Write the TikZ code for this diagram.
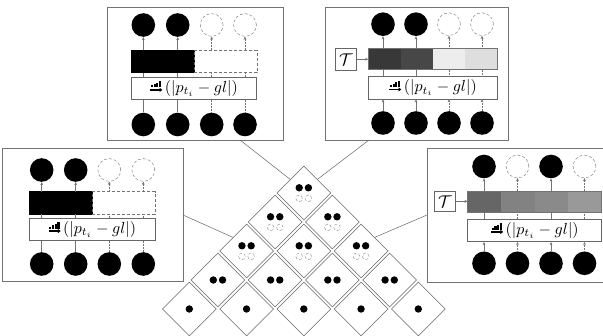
\documentclass[tikz,border=0pt]{standalone}
\usetikzlibrary{shapes.geometric,arrows.meta,calc}
\newcommand\myformula{\scalebox{1.6}{$(|p_{t_i}-gl|)$}}
\newcommand\mytau{\scalebox{1.7}{$\mathcal{T}$}}
\tikzset{
 frame/.style={draw=black!55, line width=0.6pt, rectangle, inner sep=0pt},
 area/.style={rectangle, inner sep=0pt, outer sep=0pt},
 dot/.style={circle, fill=black, inner sep=0pt, minimum size=23.6pt},
 ghost/.style={circle, draw=black!55, densely dashed, line width=0.4pt, inner sep=0pt, minimum size=22.8pt},
 fbox/.style={draw=black!60, fill=white, line width=0.6pt, inner sep=0pt, rectangle},
 keep/.style={draw=black!55, line width=0.5pt},
 drop/.style={draw=black!55, line width=0.5pt, densely dotted},
 cell/.style={rectangle, inner sep=0pt, outer sep=0pt, draw=black!55, line width=0.4pt},
 tile/.style={diamond, draw=black!60, line width=0.5pt, inner sep=0pt, minimum size=54pt, fill=white},
 sdot/.style={circle, fill=black, inner sep=0pt, minimum size=7.4pt},
 sghost/.style={circle, draw=black!55, densely dashed, line width=0.3pt, inner sep=0pt, minimum size=6.6pt},
 link/.style={draw=black!60, line width=0.5pt},
 sorticon/.pic={
   \fill (-5.6,-0.8) rectangle (-3.5,-2.8);
   \fill (-2.8,-0.8) rectangle (-0.7,-4.0);
   \fill (0.0,-0.8) rectangle (2.1,-5.4);
   \fill (2.8,-0.8) rectangle (4.9,-7.2);
   \draw[line width=1.4pt, -{Triangle[length=2.8pt,width=4pt]}] (-6,1.6) -- (6,1.6);
 }
}
\begin{document}
\begin{tikzpicture}[x=1pt,y=-1pt, >={Stealth[length=3.2pt,width=2.8pt]}]
\useasboundingbox (0,0) rectangle (603,336);

% ---------- frames ----------
\node[frame, minimum width=176pt, minimum height=133pt] (P1) at (195,73.5) {};
\node[frame, minimum width=183pt, minimum height=133pt] (P2) at (416.5,73.5) {};
\node[frame, minimum width=181pt, minimum height=133pt] (P3) at (92.5,214.5) {};
\node[frame, minimum width=183pt, minimum height=134pt] (P4) at (518.5,215) {};

% ---------- panel 1 ----------
\node[area, minimum width=125.7pt, minimum height=22.7pt] (B1) at (193.85,61.35) {};
\node[cell, fill=black, draw=black, minimum width=62.85pt, minimum height=22.7pt] (B1a) at (162.4,61.35) {};
\node[cell, densely dashed, minimum width=62.85pt, minimum height=22.7pt] (B1b) at (225.3,61.35) {};
\node[fbox, minimum width=125.7pt, minimum height=22pt] (F1) at (193.85,88.3) {};
\node (E1) at (201.35,88.3) {\myformula};
\pic (I1) at (156.35,88.3) {sorticon};
\foreach \x/\s [count=\i] in {143.3/dot,177.7/dot,211.7/ghost,245/ghost}
  \node[\s] (t1\i) at (\x,25) {};
\foreach \x [count=\i] in {143.3,177.7,211.7,245}
  \node[dot] (b1\i) at (\x,124.5) {};
\foreach \i/\s in {1/keep,2/keep,3/drop,4/drop} {
  \draw[\s] (b1\i.north) -- (b1\i.north |- F1.south);
  \draw[\s] (F1.north -| b1\i) -- (B1.south -| b1\i);
  \draw[\s,->] (B1.north -| t1\i) -- (t1\i.south);
}

% ---------- panel 3 ----------
\node[area, minimum width=125.7pt, minimum height=22.3pt] (B3) at (92.15,202.85) {};
\node[cell, fill=black, draw=black, minimum width=62.85pt, minimum height=22.3pt] (B3a) at (60.7,202.85) {};
\node[cell, densely dashed, minimum width=62.85pt, minimum height=22.3pt] (B3b) at (123.6,202.85) {};
\node[fbox, minimum width=125.7pt, minimum height=22.4pt] (F3) at (92.15,229.5) {};
\node (E3) at (99.65,229.5) {\myformula};
\pic (I3) at (54.65,229.5) {sorticon};
\foreach \x/\s [count=\i] in {41.7/dot,75.7/dot,109.3/ghost,143.3/ghost}
  \node[\s] (t3\i) at (\x,170) {};
\foreach \x [count=\i] in {41.7,75.7,109.3,143.3}
  \node[dot] (b3\i) at (\x,264) {};
\foreach \i/\s in {1/keep,2/keep,3/drop,4/drop} {
  \draw[\s] (b3\i.north) -- (b3\i.north |- F3.south);
  \draw[\s] (F3.north -| b3\i) -- (B3.south -| b3\i);
  \draw[\s,->] (B3.north -| t3\i) -- (t3\i.south);
}

% ---------- panel 2 ----------
\foreach \c/\xx [count=\i] in {black!78/384.4,black!72/416.65,black!7/448.9,black!13/481.15}
  \node[cell, draw=none, fill=\c, minimum width=32.25pt, minimum height=21pt] (B2\i) at (\xx,58.8) {};
\node[area, draw=black!55, line width=0.5pt, minimum width=129pt, minimum height=21pt] (B2) at (432.8,58.8) {};
\node[fbox, minimum width=129pt, minimum height=22.3pt] (F2) at (432.8,87.85) {};
\node (E2) at (440.3,87.85) {\myformula};
\pic (I2) at (395.3,87.85) {sorticon};
\node[fbox, minimum width=21.7pt, minimum height=21.7pt] (T2) at (345.8,59.2) {\mytau};
\draw[keep,->] (T2.east) -- (T2.east -| B2.west);
\foreach \x/\s [count=\i] in {383/dot,416/dot,449/ghost,482/ghost}
  \node[\s] (t2\i) at (\x,24.2) {};
\foreach \x [count=\i] in {383,416,449,482}
  \node[dot] (b2\i) at (\x,123) {};
\foreach \i/\s in {1/keep,2/keep,3/drop,4/drop} {
  \draw[\s,->] (b2\i.north) -- (b2\i.north |- F2.south);
  \draw[\s] (F2.north -| b2\i) -- (B2.south -| b2\i);
  \draw[\s,->] (B2.north -| t2\i) -- (t2\i.south);
}

% ---------- panel 4 ----------
\foreach \c/\xx [count=\i] in {black!60/484.45,black!49/517.95,black!46/551.45,black!40/584.95}
  \node[cell, draw=none, fill=\c, minimum width=33.5pt, minimum height=21.3pt] (B4\i) at (\xx,201.65) {};
\node[area, draw=black!55, line width=0.5pt, minimum width=134pt, minimum height=21.3pt] (B4) at (534.7,201.65) {};
\node[fbox, minimum width=134pt, minimum height=22.7pt] (F4) at (534.7,230.35) {};
\node (E4) at (542.2,230.35) {\myformula};
\pic (I4) at (497.2,230.35) {sorticon};
\node[fbox, minimum width=21.7pt, minimum height=20.7pt] (T4) at (444.85,201.35) {\mytau};
\draw[keep,->] (T4.east) -- (T4.east -| B4.west);
\foreach \x/\s [count=\i] in {484/dot,517.5/ghost,551/dot,584.5/ghost}
  \node[\s] (t4\i) at (\x,166.5) {};
\foreach \x [count=\i] in {484,517.5,551,584.5}
  \node[dot] (b4\i) at (\x,263.3) {};
\foreach \i/\s in {1/keep,2/drop,3/keep,4/drop} {
  \draw[\s,->] (b4\i.north) -- (b4\i.north |- F4.south);
  \draw[\s] (F4.north -| b4\i) -- (B4.south -| b4\i);
  \draw[\s,->] (B4.north -| t4\i) -- (t4\i.south);
}

% ---------- pyramid ----------
\foreach \r in {1,...,5} {
  \pgfmathtruncatemacro\n{6-\r}
  \foreach \k in {1,...,\n} {
    \pgfmathsetmacro\cx{189.3+28.625*(\r-1)+57.25*(\k-1)}
    \pgfmathsetmacro\cy{309-29*(\r-1)}
    \node[tile] (d\r\k) at (\cx,\cy) {};
    \ifnum\r=1
      \node[sdot] (s\r\k) at (d\r\k) {};
    \else
      \ifnum\r=2
        \node[sdot] (s\r\k a) at ($(d\r\k)+(-4.6,0)$) {};
        \node[sdot] (s\r\k b) at ($(d\r\k)+(4.6,0)$) {};
      \else
        \node[sdot] (s\r\k a) at ($(d\r\k)+(-4.6,-5.2)$) {};
        \node[sdot] (s\r\k b) at ($(d\r\k)+(4.6,-5.2)$) {};
        \node[sghost] (g\r\k a) at ($(d\r\k)+(-4.6,5.4)$) {};
        \node[sghost] (g\r\k b) at ($(d\r\k)+(4.6,5.4)$) {};
      \fi
    \fi
  }
}

% ---------- connectors ----------
\coordinate (k1) at (240,140);
\coordinate (k2) at (369,140);
\coordinate (k3) at (183,215);
\coordinate (k4) at (427,215);
\draw[link] (k1) -- ($(d51.north)!0.5!(d51.west)$);
\draw[link] (k2) -- ($(d51.north)!0.5!(d51.east)$);
\draw[link] (k3) -- ($(d31.north)!0.5!(d31.west)$);
\draw[link] (k4) -- ($(d33.north)!0.5!(d33.east)$);
\end{tikzpicture}
\end{document}
